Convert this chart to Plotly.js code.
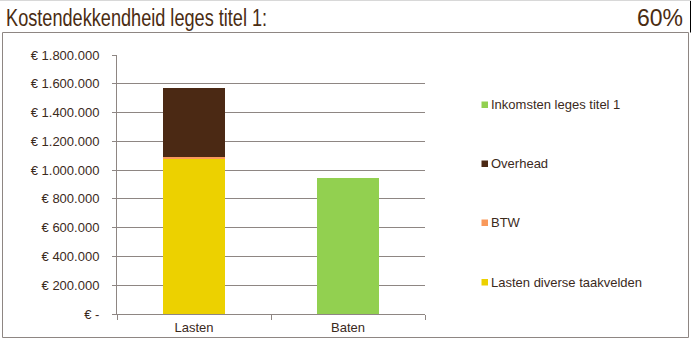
<!DOCTYPE html>
<html>
<head>
<meta charset="utf-8">
<script src="https://cdn.plot.ly/plotly-3.0.1.min.js"></script>
<style>html,body{margin:0;padding:0;background:#fff;}#chart{width:691px;height:339px;}</style>
</head>
<body>
<div id="chart"></div>
<script>
// ---- data ----
var categories = ['Lasten', 'Baten'];
var seriesNames = ['Lasten diverse taakvelden', 'BTW', 'Overhead', 'Inkomsten leges titel 1'];
var seriesColors = ['#ECD100', '#F9995B', '#4B2914', '#92D050'];
var lastenDiverse = [1080000, 0];
var btw = [8000, 0];
var overhead = [483000, 0];
var inkomsten = [0, 946000];
var tickValues = [0, 200000, 400000, 600000, 800000, 1000000, 1200000, 1400000, 1600000, 1800000];
var tickLabels = ['€ -', '€ 200.000', '€ 400.000', '€ 600.000', '€ 800.000', '€ 1.000.000', '€ 1.200.000', '€ 1.400.000', '€ 1.600.000', '€ 1.800.000'];
var titleText = 'Kostendekkendheid leges titel 1:';
var percentText = '60%';

// ---- layout helpers (pixel -> paper) ----
var W = 691, H = 339;
var mL = 117, mR = 266, mT = 55, mB = 25;
var pw = W - mL - mR, ph = H - mT - mB;
function px(x) { return (x - mL) / pw; }
function py(y) { return (H - mB - y) / ph; }

var txtColor = '#3b2a1c';
var lineColor = '#8e8683';
var font = 'Liberation Sans, Arial, sans-serif';

var seriesValues = [lastenDiverse, btw, overhead, inkomsten];
var traces = seriesValues.map(function (vals, i) {
  return {
    type: 'bar', x: categories, y: vals, name: seriesNames[i],
    marker: { color: seriesColors[i], line: { width: 0 } },
    showlegend: false, hoverinfo: 'none'
  };
});

var shapes = [
  { type: 'rect', xref: 'paper', yref: 'paper', x0: px(2.5), x1: px(688.5), y0: py(337.5), y1: py(32.5),
    line: { color: lineColor, width: 1 }, fillcolor: 'rgba(0,0,0,0)' },
  { type: 'line', xref: 'paper', yref: 'paper', x0: px(690.5), x1: px(690.5), y0: py(0), y1: py(32.5),
    line: { color: '#000', width: 1 } },
  { type: 'line', xref: 'paper', yref: 'paper', x0: px(0), x1: px(691), y0: py(0.5), y1: py(0.5),
    line: { color: '#d8d8d8', width: 1 } }
];
var titleLeft = 6, titleWidth = 261;
var annotations = [
  { xref: 'paper', yref: 'paper', x: px(titleLeft + titleWidth / 2), y: py(18), xanchor: 'center', yanchor: 'middle', showarrow: false,
    text: titleText, font: { family: 'Liberation Sans, Arial, sans-serif', size: 23, color: '#4a2c12' } },
  { xref: 'paper', yref: 'paper', x: px(685), y: py(18), xanchor: 'right', yanchor: 'middle', showarrow: false,
    text: percentText, font: { family: 'Liberation Sans, Arial, sans-serif', size: 23, color: '#4a2c12' } }
];
// legend (top to bottom: reversed series order)
var legendY = [104.5, 163.5, 222.5, 282];
for (var k = 0; k < seriesNames.length; k++) {
  var idx = seriesNames.length - 1 - k;
  var cy = legendY[k];
  shapes.push({ type: 'rect', xref: 'paper', yref: 'paper', x0: px(481.5), x1: px(488), y0: py(cy + 3.5), y1: py(cy - 3),
    line: { width: 0 }, fillcolor: seriesColors[idx] });
  annotations.push({ xref: 'paper', yref: 'paper', x: px(489), y: py(cy), xanchor: 'left', yanchor: 'middle', showarrow: false,
    text: seriesNames[idx], font: { family: font, size: 13, color: txtColor } });
}

var layout = {
  width: W, height: H,
  margin: { l: mL, r: mR, t: mT, b: mB, pad: 0 },
  paper_bgcolor: '#fff', plot_bgcolor: '#fff',
  barmode: 'stack', bargap: 0.6,
  showlegend: false,
  font: { family: font, size: 12, color: txtColor },
  xaxis: {
    type: 'category', categoryorder: 'array', categoryarray: categories,
    showline: true, linecolor: lineColor, linewidth: 1,
    ticks: 'outside', tickson: 'boundaries', ticklen: 5, tickcolor: lineColor,
    showgrid: false, zeroline: false, fixedrange: true, ticklabelstandoff: 1,
    tickfont: { family: font, size: 13, color: txtColor }
  },
  yaxis: {
    range: [0, 1800000], tickmode: 'array', tickvals: tickValues, ticktext: tickLabels,
    showline: true, linecolor: lineColor, linewidth: 1,
    ticks: 'outside', ticklen: 4, tickcolor: lineColor,
    showgrid: true, gridcolor: lineColor, gridwidth: 1, zeroline: false,
    ticklabelstandoff: 10, fixedrange: true,
    tickfont: { family: font, size: 13, color: txtColor }
  },
  shapes: shapes,
  annotations: annotations
};

Plotly.newPlot('chart', traces, layout, { staticPlot: true, displayModeBar: false }).then(function (gd) {
  // condense the title text horizontally to match the narrow title face of the original
  var texts = gd.querySelectorAll('.annotation-text');
  texts.forEach(function (t) {
    if (t.textContent === titleText) {
      t.setAttribute('textLength', titleWidth);
      t.setAttribute('lengthAdjust', 'spacingAndGlyphs');
    }
  });
});
</script>
</body>
</html>
